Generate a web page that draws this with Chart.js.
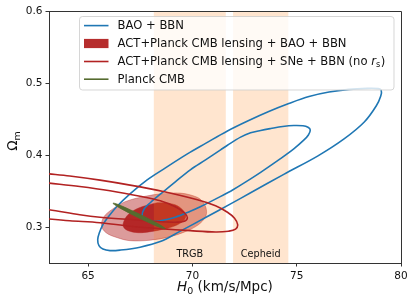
<!DOCTYPE html>
<html><head><meta charset="utf-8">
<script src="https://cdn.jsdelivr.net/npm/chart.js@4.4.1/dist/chart.umd.min.js"></script>
<style>html,body{margin:0;padding:0;background:#fff}</style>
</head><body>
<canvas id="c" width="415" height="308"></canvas>
<script>
// ---- data ----
const xTicks = [65, 70, 75, 80];
const yTicks = [0.3, 0.4, 0.5, 0.6];
const xRange = [63.125, 80];
const yRange = [0.25, 0.6];
const bandNames = ['TRGB', 'Cepheid'];
const bandLo = [68.15, 71.95];
const bandHi = [71.6, 74.6];
const legendLabels = ['BAO + BBN', 'ACT+Planck CMB lensing + BAO + BBN', 'ACT+Planck CMB lensing + SNe + BBN (no ', 'Planck CMB'];

// BAO + BBN, 95% contour (outline)
const baoOuter = [[72.79,0.3475],[71.83,0.3321],[70.72,0.3145],[69.42,0.2943],[68.46,0.2797],[67.49,0.272],[66.53,0.2679],[66.05,0.2672],[65.71,0.2693],[65.52,0.2741],[65.46,0.2824],[65.54,0.2921],[65.71,0.3032],[65.90,0.3115],[66.39,0.3288],[67.01,0.3461],[67.83,0.3655],[68.60,0.3801],[69.76,0.4015],[70.63,0.4161],[71.68,0.4334],[72.70,0.4479],[73.66,0.4604],[74.62,0.4715],[75.59,0.4812],[76.55,0.4874],[77.51,0.4911],[78.38,0.4925],[78.91,0.4922],[79.05,0.4902],[79.03,0.4819],[78.81,0.468],[78.24,0.4458],[77.27,0.4223],[76.02,0.3988],[74.38,0.3731],[72.79,0.3475]];
// BAO + BBN, 68% contour (outline)
const baoInner = [[71.83,0.3496],[70.38,0.3281],[69.90,0.3219],[69.18,0.3136],[68.46,0.3087],[67.98,0.308],[67.74,0.3101],[67.59,0.3157],[67.69,0.3254],[67.98,0.3337],[68.60,0.3489],[69.18,0.3627],[69.90,0.3794],[70.63,0.3932],[71.35,0.4071],[71.68,0.4136],[72.31,0.4248],[72.79,0.4308],[73.27,0.4341],[73.76,0.4368],[74.33,0.4396],[74.86,0.441],[75.30,0.4406],[75.54,0.4385],[75.65,0.4348],[75.56,0.4278],[75.35,0.4209],[74.86,0.4085],[74.24,0.3953],[73.27,0.3759],[72.79,0.3669],[71.83,0.3496]];
// ACT+Planck lensing + BAO + BBN (filled)
const actBaoOuter = [[68.46,0.3461],[69.42,0.3471],[70.23,0.3413],[70.53,0.3337],[70.67,0.324],[70.63,0.3143],[70.29,0.3032],[69.66,0.2935],[68.94,0.2866],[67.98,0.2817],[67.01,0.281],[66.40,0.2852],[65.86,0.2921],[65.64,0.3018],[65.76,0.3143],[66.13,0.324],[66.77,0.3351],[67.74,0.3427],[68.46,0.3461]];
const actBaoInner = [[68.31,0.3337],[68.84,0.333],[69.28,0.3295],[69.57,0.3226],[69.69,0.3157],[69.57,0.3087],[69.18,0.3018],[68.60,0.297],[67.98,0.2935],[67.40,0.2921],[66.92,0.2949],[66.72,0.299],[66.68,0.3046],[66.87,0.3157],[67.25,0.324],[67.74,0.3295],[68.31,0.3337]];
// ACT+Planck lensing + SNe + BBN (outlines, open to the left)
const snOuter = [[62.5,0.3756],[63.125,0.3738],[64.12,0.3708],[65.57,0.3651],[67.01,0.3582],[68.60,0.3493],[70.24,0.3378],[71.11,0.3295],[71.68,0.3205],[72.02,0.3122],[72.17,0.3032],[72.07,0.297],[71.73,0.2942],[71.11,0.2931],[69.90,0.2949],[68.46,0.2977],[67.01,0.3011],[65.57,0.306],[64.12,0.3087],[63.125,0.3111],[62.5,0.3129]];
const snInner = [[62.5,0.3629],[63.125,0.3609],[64.60,0.3562],[66.05,0.3503],[67.49,0.3427],[68.46,0.3364],[69.18,0.3281],[69.61,0.3198],[69.76,0.3129],[69.61,0.308],[69.18,0.3067],[68.46,0.3073],[67.49,0.3094],[65.57,0.3136],[64.60,0.317],[63.125,0.3239],[62.5,0.3257]];
// Planck CMB (filled, narrow)
const planck = [[67.48,0.3177],[66.59,0.3295],[66.29,0.3327],[66.19,0.333],[66.26,0.3312],[66.53,0.3262],[67.41,0.3129],[68.30,0.3011],[68.61,0.2979],[68.70,0.2976],[68.64,0.2994],[68.36,0.3044],[67.48,0.3177]];

// ---- styles ----
const C_BLUE = '#1f77b4', C_RED = '#b22222', C_GREEN = '#556b2f';
const FONT = '"DejaVu Sans", sans-serif';
const pts = a => a.map(p => ({x: p[0], y: p[1]}));
const lineDs = (d, color, order, extra) => Object.assign({data: pts(d), showLine: true, fill: false, borderColor: color, borderWidth: 1.6, pointRadius: 0, tension: 0.35, order: order}, extra || {});

const datasets = [
  lineDs(actBaoOuter, 'rgba(178,34,34,0.35)', 10, {fill: 'shape', backgroundColor: 'rgba(178,34,34,0.45)', borderWidth: 1}),
  lineDs(actBaoInner, 'rgba(178,34,34,0.95)', 9, {fill: 'shape', backgroundColor: 'rgba(178,34,34,0.95)', borderWidth: 0.5}),
  lineDs(baoOuter, C_BLUE, 8),
  lineDs(baoInner, C_BLUE, 7),
  lineDs(snOuter, C_RED, 6),
  lineDs(snInner, C_RED, 5),
  lineDs(planck, C_GREEN, 4, {fill: 'shape', backgroundColor: C_GREEN, borderWidth: 0.8})
];

const bandPlugin = {
  id: 'bands',
  beforeDatasetDraw(chart, args) {
    if (args.index !== 2) return;
    const {ctx, chartArea: a, scales: {x, y}} = chart;
    ctx.save();
    ctx.beginPath(); ctx.rect(a.left, a.top, a.right - a.left, a.bottom - a.top); ctx.clip();
    for (let i = 0; i < bandNames.length; i++) {
      const x0 = x.getPixelForValue(bandLo[i]), x1 = x.getPixelForValue(bandHi[i]);
      ctx.fillStyle = 'rgba(255,127,14,0.2)';
      ctx.fillRect(x0, a.top, x1 - x0, a.bottom - a.top);
      ctx.fillStyle = '#111';
      ctx.font = '9.7px ' + FONT;
      ctx.textAlign = 'center'; ctx.textBaseline = 'alphabetic';
      ctx.fillText(bandNames[i], (x0 + x1) / 2, a.bottom - 6.5);
    }
    ctx.restore();
  }
};

function roundRect(ctx, x, y, w, h, r) {
  ctx.beginPath();
  ctx.moveTo(x + r, y); ctx.lineTo(x + w - r, y); ctx.arcTo(x + w, y, x + w, y + r, r);
  ctx.lineTo(x + w, y + h - r); ctx.arcTo(x + w, y + h, x + w - r, y + h, r);
  ctx.lineTo(x + r, y + h); ctx.arcTo(x, y + h, x, y + h - r, r);
  ctx.lineTo(x, y + r); ctx.arcTo(x, y, x + r, y, r); ctx.closePath();
}

const decoPlugin = {
  id: 'deco',
  afterDraw(chart) {
    const {ctx, chartArea: a} = chart;
    ctx.save();
    // top & right spines
    ctx.strokeStyle = '#333'; ctx.lineWidth = 1;
    ctx.beginPath();
    ctx.moveTo(Math.round(a.left) + 0.5, Math.round(a.top) + 0.5);
    ctx.lineTo(Math.round(a.right) + 0.5, Math.round(a.top) + 0.5);
    ctx.lineTo(Math.round(a.right) + 0.5, Math.round(a.bottom) + 0.5);
    ctx.stroke();

    // x title: H_0 (km/s/Mpc)
    ctx.fillStyle = '#111'; ctx.textBaseline = 'alphabetic'; ctx.textAlign = 'left';
    const fMain = '13.5px ' + FONT, fIt = 'oblique 13.5px ' + FONT, fSub = '9.5px ' + FONT;
    ctx.font = fIt; const wH = ctx.measureText('H').width;
    ctx.font = fSub; const w0 = ctx.measureText('0').width;
    ctx.font = fMain; const wR = ctx.measureText(' (km/s/Mpc)').width;
    let tx = (a.left + a.right) / 2 - (wH + w0 + wR) / 2; const ty = 290.5;
    ctx.font = fIt; ctx.fillText('H', tx, ty); tx += wH;
    ctx.font = fSub; ctx.fillText('0', tx, ty + 3); tx += w0;
    ctx.font = fMain; ctx.fillText(' (km/s/Mpc)', tx, ty);

    // y title: Omega_m
    ctx.save();
    ctx.translate(16.5, 141); ctx.rotate(-Math.PI / 2);
    ctx.font = fMain; const wO = ctx.measureText('\u03A9').width;
    ctx.font = fSub; const wm = ctx.measureText('m').width;
    let ox = -(wO + wm) / 2;
    ctx.font = fMain; ctx.fillText('\u03A9', ox, 0); ox += wO;
    ctx.font = fSub; ctx.fillText('m', ox, 3);
    ctx.restore();

    // legend
    const bx = 79.5, by = 16.5, bw = 314.5, bh = 73.5;
    roundRect(ctx, bx, by, bw, bh, 3);
    ctx.fillStyle = 'rgba(255,255,255,0.8)'; ctx.fill();
    ctx.strokeStyle = 'rgba(204,204,204,0.8)'; ctx.lineWidth = 1; ctx.stroke();
    const rows = [25.6, 43.5, 61.5, 79.2];
    const hx0 = 84, hx1 = 108.5, txX = 117.5;
    ctx.lineWidth = 1.6;
    ctx.strokeStyle = C_BLUE; ctx.beginPath(); ctx.moveTo(hx0, rows[0]); ctx.lineTo(hx1, rows[0]); ctx.stroke();
    ctx.fillStyle = 'rgba(178,34,34,0.95)'; ctx.fillRect(hx0, rows[1] - 4.6, hx1 - hx0, 9.2);
    ctx.strokeStyle = C_RED; ctx.beginPath(); ctx.moveTo(hx0, rows[2]); ctx.lineTo(hx1, rows[2]); ctx.stroke();
    ctx.strokeStyle = C_GREEN; ctx.beginPath(); ctx.moveTo(hx0, rows[3]); ctx.lineTo(hx1, rows[3]); ctx.stroke();
    ctx.fillStyle = '#111'; ctx.textBaseline = 'middle';
    const fL = '11.6px ' + FONT;
    for (let i = 0; i < legendLabels.length; i++) {
      ctx.font = fL;
      ctx.fillText(legendLabels[i], txX, rows[i] + 0.5);
      if (i === 2) {
        let lx = txX + ctx.measureText(legendLabels[i]).width;
        ctx.font = 'oblique 11.6px ' + FONT; ctx.fillText('r', lx, rows[i] + 0.5); lx += ctx.measureText('r').width;
        ctx.font = '8.2px ' + FONT; ctx.fillText('s', lx, rows[i] + 3); lx += ctx.measureText('s').width + 0.5;
        ctx.font = fL; ctx.fillText(')', lx, rows[i] + 0.5);
      }
    }
    ctx.restore();
  }
};

const axisCommon = {
  type: 'linear',
  grid: {display: true, drawOnChartArea: false, drawTicks: true, tickLength: 3.5, color: '#333', lineWidth: 1},
  border: {display: true, color: '#333', width: 1}
};

new Chart(document.getElementById('c'), {
  type: 'scatter',
  data: {datasets},
  options: {
    responsive: false, animation: false, events: [],
    layout: {padding: {top: 11, right: 14, left: 0, bottom: 0}, autoPadding: false},
    plugins: {legend: {display: false}, tooltip: {enabled: false}},
    scales: {
      x: Object.assign({}, axisCommon, {
        min: xRange[0], max: xRange[1],
        afterBuildTicks: s => { s.ticks = xTicks.map(v => ({value: v})); },
        afterFit: s => { s.height = 45; },
        ticks: {autoSkip: false, maxRotation: 0, padding: 3, color: '#111', font: {family: 'DejaVu Sans', size: 10.5}, callback: v => String(v)}
      }),
      y: Object.assign({}, axisCommon, {
        min: yRange[0], max: yRange[1],
        afterBuildTicks: s => { s.ticks = yTicks.map(v => ({value: v})); },
        afterFit: s => { s.width = 49; },
        ticks: {autoSkip: false, padding: 3, color: '#111', font: {family: 'DejaVu Sans', size: 10.5}, callback: v => Number(v).toFixed(1)}
      })
    }
  },
  plugins: [bandPlugin, decoPlugin]
});
</script>
</body></html>
